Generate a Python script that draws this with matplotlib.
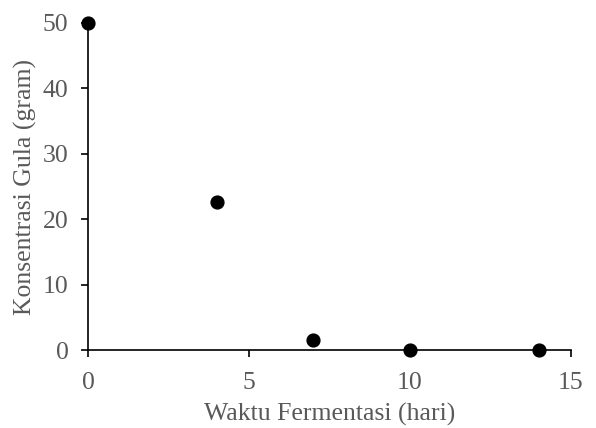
import matplotlib
matplotlib.use("Agg")
import matplotlib.pyplot as plt

# data
waktu = [0, 4, 7, 10, 14]
gula = [50, 22.7, 1.6, 0, 0]
xticks = [0, 5, 10, 15]
yticks = [0, 10, 20, 30, 40, 50]

plt.rcParams['font.family'] = ['Liberation Serif', 'DejaVu Serif']
grey = '#595959'

fig = plt.figure(figsize=(5.96, 4.28), dpi=100)
ax = fig.add_axes([0.1477, 0.1822, 0.8103, 0.7641])

ax.scatter(waktu, gula, s=85, color='black', zorder=3, clip_on=False)

ax.set_xlim(0, 15)
ax.set_ylim(0, 50)
ax.set_xticks(xticks)
ax.set_yticks(yticks)

for side in ['top', 'right']:
    ax.spines[side].set_visible(False)
for side in ['left', 'bottom']:
    ax.spines[side].set_color('black')
    ax.spines[side].set_linewidth(1.2)

ax.tick_params(direction='out', length=5, width=1.2, color='black',
               labelcolor=grey, labelsize=18.5)
ax.tick_params(axis='x', pad=11)
ax.tick_params(axis='y', pad=9)

ax.set_xlabel('Waktu Fermentasi (hari)', fontsize=18.5, color=grey, labelpad=6)
ax.set_ylabel('Konsentrasi Gula (gram)', fontsize=18.5, color=grey, labelpad=4)

fig.savefig('out.png', dpi=100)
